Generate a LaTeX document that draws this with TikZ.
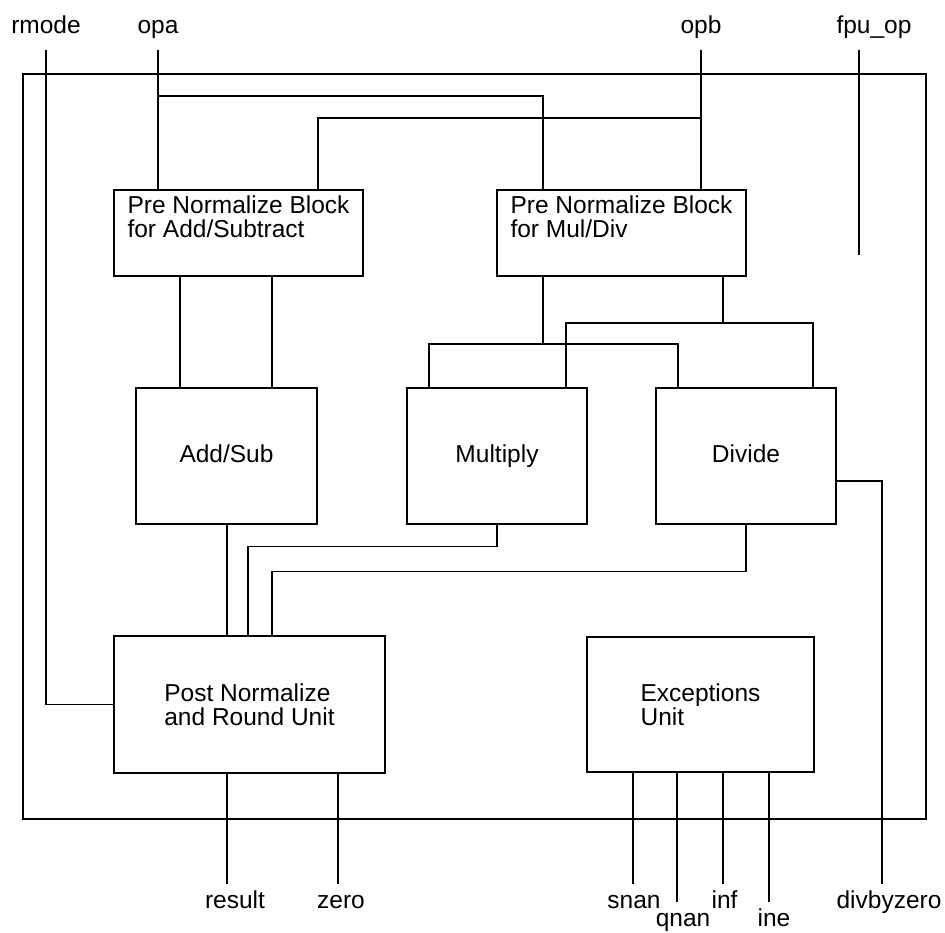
\documentclass[tikz,border=0pt]{standalone}
\usepackage{fontspec}
\setmainfont{Liberation Sans}

\begin{document}
\begin{tikzpicture}[
        x=0.5pt, y=-0.5pt,
        font=\fontsize{12.25}{12}\selectfont,
        line width=0.6pt,
        block/.style={
            draw,
            align=left,
            inner sep=0pt
        },
        unit/.style={block, minimum width=90pt, minimum height=68pt, text height=1.6ex, text depth=0.3ex},
        port/.style={anchor=base, inner xsep=0pt, text height=0pt, text depth=0pt},
        inport/.style={port, inner ysep=8pt},
        outport/.style={port, inner ysep=11.5pt}
    ]

    \useasboundingbox (0,0) rectangle (945,932);

    % outer frame of the unit
    \draw (23,74) rectangle (926,819);

    \node[block, minimum width=124.5pt, minimum height=43pt,
        label={[align=left, yshift=8pt]center:Pre Normalize Block\\for Add/Subtract}] (preadd) at (238.5,233) {};
    \node[block, minimum width=124.5pt, minimum height=43pt,
        label={[align=left, yshift=8pt]center:Pre Normalize Block\\for Mul/Div}] (premul) at (621.5,233) {};

    \node[unit, minimum width=90.5pt] (addsub) at (226.5,456) {Add/Sub};
    \node[unit] (mul) at (497,456) {Multiply};
    \node[unit] (div) at (746,456) {Divide};

    \node[block, minimum width=135.5pt, minimum height=68.5pt] (post) at (249.5,704.5) {Post Normalize\\and Round Unit};
    \node[block, minimum width=113.5pt, minimum height=67.5pt] (exc) at (700.5,704.5) {Exceptions\\Unit};

    % ports
    \node[inport] (rmode) at (46,33) {rmode};
    \node[inport] (opa) at (158,33) {opa};
    \node[inport] (opb) at (701,33) {opb};
    \node[inport] (fpuop) at (874,33) {fpu\_op};

    \node[outport] (result) at (235,908) {result};
    \node[outport] (zero) at (341,908) {zero};
    \node[outport] (snan) at (634,908) {snan};
    \node[outport] (qnan) at (683,926) {qnan};
    \node[outport] (inf) at (724.5,908) {inf};
    \node[outport] (ine) at (774,926) {ine};
    \node[outport] (dbz) at (889,908) {divbyzero};

    \coordinate (opstub) at (859,255);
    \coordinate (jm) at (543,344);
    \coordinate (jd) at (723,323);

    % inputs
    \draw (rmode.south) |- (post.west);
    \draw (opa.south) -- (preadd.north -| opa.south);
    \draw (opa.south |- 0,96) -| (premul.north -| 543,0);
    \draw (opb.south) -- (premul.north -| opb.south);
    \draw (opb.south |- 0,118) -| (preadd.north -| 318,0);
    \draw (fpuop.south -| opstub) -- (opstub);

    % pre normalize to arithmetic
    \draw (preadd.south -| 180,0) -- (addsub.north -| 180,0);
    \draw (preadd.south -| 272,0) -- (addsub.north -| 272,0);
    \draw (premul.south -| jm) -- (jm);
    \draw (premul.south -| jd) -- (jd);
    \draw (mul.north -| 429,0) |- (jm) -| (div.north -| 678,0);
    \draw (mul.north -| 566,0) |- (jd) -| (div.north -| 813,0);

    % arithmetic to post normalize
    \draw (addsub.south -| 227,0) -- (post.north -| 227,0);
    \draw (mul.south) -- ++(0,-11pt) -| (post.north -| 248,0);
    \draw (div.south) -- ++(0,-23.5pt) -| (post.north -| 272,0);
    \draw ([yshift=-12.5pt]div.east) -| (dbz.north -| 882,0);

    % outputs
    \draw (post.south -| 227,0) -- (result.north -| 227,0);
    \draw (post.south -| 338,0) -- (zero.north -| 338,0);
    \foreach \x/\n in {633/snan, 677/qnan, 723/inf, 769/ine}
        \draw (exc.south -| \x,0) -- (\n.north -| \x,0);

    \end{tikzpicture}
\end{document}
